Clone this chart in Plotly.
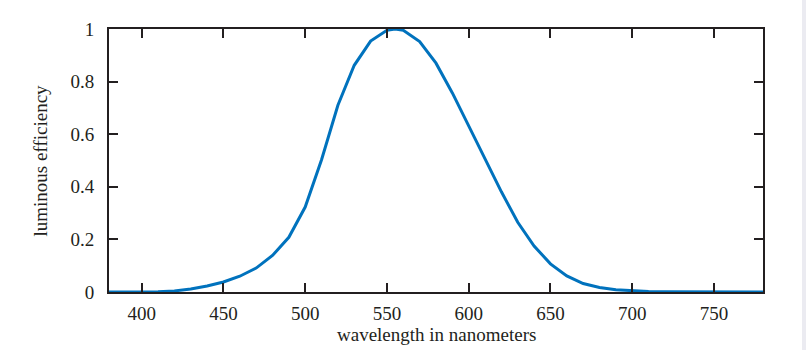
import plotly.graph_objects as go

# CIE photopic luminous efficiency V(lambda)
wavelength = [380, 390, 400, 410, 420, 430, 440, 450, 460, 470, 480, 490,
              500, 510, 520, 530, 540, 550, 555, 560, 570, 580, 590, 600,
              610, 620, 630, 640, 650, 660, 670, 680, 690, 700, 710, 720,
              730, 740, 750, 760, 770, 780]
efficiency = [0.000039, 0.00012, 0.000396, 0.00121, 0.004, 0.0116, 0.023,
              0.038, 0.06, 0.091, 0.139, 0.208, 0.323, 0.503, 0.71, 0.862,
              0.954, 0.995, 1.0, 0.995, 0.952, 0.87, 0.757, 0.631, 0.503,
              0.381, 0.265, 0.175, 0.107, 0.061, 0.032, 0.017, 0.0082,
              0.0041, 0.0021, 0.00105, 0.00052, 0.00025, 0.00012, 0.00006,
              0.00003, 0.000015]

x_ticks = [400, 450, 500, 550, 600, 650, 700, 750]
y_ticks = [0, 0.2, 0.4, 0.6, 0.8, 1]
y_tick_labels = ["0", "0.2", "0.4", "0.6", "0.8", "1"]

ink = "#231f20"
font = dict(family="Liberation Serif", size=19, color=ink)

# plot-area geometry in pixels
ML, MR, MT, MB = 109, 43, 29, 58
PW, PH = 806 - ML - MR, 350 - MT - MB

fig = go.Figure()
fig.add_trace(go.Scatter(
    x=wavelength, y=efficiency, mode="lines",
    line=dict(color="#0072bd", width=3),
    cliponaxis=True, showlegend=False,
))

axis_common = dict(
    showline=True, linecolor=ink, linewidth=2, mirror="ticks",
    ticks="inside", ticklen=9, tickwidth=1.5, tickcolor=ink,
    showgrid=False, zeroline=False, tickfont=font,
)

fig.update_xaxes(range=[380, 780], tickvals=x_ticks, ticklabelstandoff=3,
                 **axis_common)
fig.update_yaxes(range=[0, 1], tickvals=y_ticks, ticktext=y_tick_labels,
                 ticklabelstandoff=9, **axis_common)

# axis titles
fig.add_annotation(text="wavelength in nanometers", xref="paper", yref="paper",
                   x=0.5, y=-(334 - (MT + PH)) / PH, xanchor="center",
                   yanchor="middle", showarrow=False, font=font)
fig.add_annotation(text="luminous efficiency", xref="paper", yref="paper",
                   x=(40 - ML) / PW, y=0.5, xanchor="center", yanchor="middle",
                   textangle=-90, showarrow=False, font=font)

# light strip along the right edge of the page
fig.add_shape(type="rect", xref="paper", yref="paper",
              x0=(802 - ML) / PW, x1=(810 - ML) / PW, y0=-0.3, y1=1.2,
              fillcolor="#ebebf1", line=dict(width=0), layer="below")

fig.update_layout(
    width=806, height=350,
    margin=dict(l=ML, r=MR, t=MT, b=MB),
    paper_bgcolor="white", plot_bgcolor="white",
    font=font,
)

fig.write_html("out.html")
